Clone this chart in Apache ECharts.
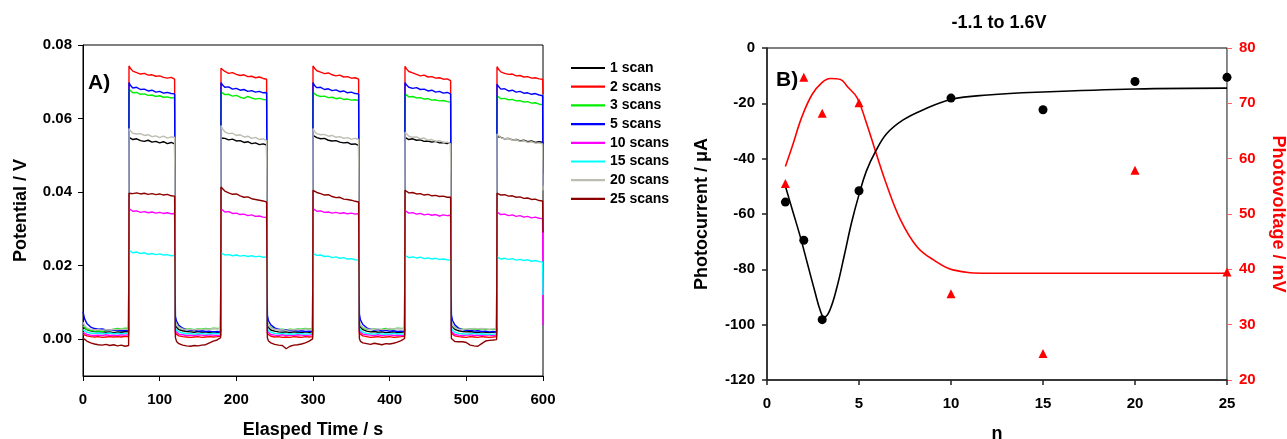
<!DOCTYPE html>
<html><head><meta charset="utf-8">
<script src="https://cdn.jsdelivr.net/npm/echarts@6/dist/echarts.min.js"></script>
<style>html,body{margin:0;padding:0;background:#fff}#c{width:1287px;height:439px}</style>
</head><body><div id="c"></div>
<script>
// ---------- Panel A data (time in s, potential in mV) ----------
const times = [
 0,2,5,10,15,20,25,30,35,40,45,50,55,59.5,
 60,62,65,70,75,80,85,90,95,100,105,110,115,119.5,
 120.5,122,125,130,135,140,145,150,155,160,165,170,175,179.5,
 180,182,185,190,195,200,205,210,215,220,225,230,235,239.5,
 240.5,242,245,250,255,260,265,270,275,280,285,290,295,299.5,
 300,302,305,310,315,320,325,330,335,340,345,350,355,359.5,
 360.5,362,365,370,375,380,385,390,395,400,405,410,415,419.5,
 420,422,425,430,435,440,445,450,455,460,465,470,475,479.5,
 480.5,482,485,490,495,500,505,510,515,520,525,530,535,539.5,
 540,542,545,550,555,560,565,570,575,580,585,590,595,599.5,
 600];
const scan1 = [
 3.4,3.0,2.6,2.3,2.1,2.0,2.1,1.9,2.0,1.8,2.0,1.9,2.1,2.0,
 54.9,54.6,54.3,54.5,54.0,53.8,54.1,53.6,53.8,53.4,53.7,53.2,53.5,53.1,
 3.6,3.1,2.6,2.3,2.1,2.0,1.9,2.1,1.9,2.0,1.8,2.0,1.9,2.0,
 54.7,54.5,54.6,54.2,54.4,53.9,54.0,53.5,53.7,53.2,53.4,52.9,53.1,52.8,
 3.5,3.0,2.5,2.2,2.0,1.9,2.0,1.8,2.0,1.9,1.8,2.0,1.9,2.0,
 55.4,55.0,54.8,54.5,54.6,54.1,53.9,54.0,53.6,53.4,53.5,53.0,53.1,52.7,
 3.6,3.1,2.6,2.2,2.0,2.1,1.9,2.0,1.8,1.9,2.0,1.8,1.9,2.0,
 54.9,54.7,54.3,54.5,54.1,54.2,53.8,53.9,53.6,53.8,53.4,53.5,53.2,53.4,
 3.7,3.2,2.7,2.3,2.1,2.0,2.1,1.9,1.8,2.0,1.9,1.8,1.9,2.0,
 55.1,54.8,54.9,54.5,54.6,54.2,54.3,53.9,54.1,53.7,53.9,53.5,53.7,53.6,
 45];
const scan2 = [
 1.3,1.1,0.9,0.7,0.6,0.7,0.5,0.6,0.7,0.6,0.7,0.6,0.8,0.7,
 74.3,73.6,72.9,72.5,72.1,72.3,71.8,71.9,71.5,71.6,71.2,71.0,71.2,70.7,
 1.6,1.2,0.9,0.7,0.6,0.5,0.6,0.7,0.5,0.6,0.7,0.6,0.7,0.8,
 73.7,73.2,72.8,72.3,72.5,72.0,71.7,71.9,71.4,71.5,71.1,71.3,70.9,70.7,
 1.5,1.1,0.8,0.6,0.7,0.5,0.6,0.5,0.7,0.6,0.5,0.7,0.6,0.7,
 74.3,73.7,73.0,72.6,72.2,72.4,71.9,71.6,71.8,71.3,71.4,71.0,71.1,70.7,
 1.6,1.2,0.9,0.7,0.5,0.6,0.7,0.5,0.6,0.7,0.5,0.6,0.7,0.8,
 74.2,73.5,72.8,72.4,72.0,71.6,71.8,71.3,71.4,71.0,71.1,70.7,70.8,70.3,
 1.7,1.3,0.9,0.7,0.6,0.5,0.7,0.6,0.5,0.7,0.6,0.5,0.6,0.7,
 74.1,73.4,72.7,72.3,72.0,72.1,71.6,71.7,71.3,71.4,71.0,71.1,70.8,70.7,
 66.7];
const scan3 = [
 3.6,3.1,2.7,2.4,2.2,2.3,2.1,2.4,2.5,2.7,2.9,2.8,3.0,2.9,
 68.0,67.5,67.0,67.1,66.6,66.7,66.3,66.4,66.0,66.2,65.8,65.9,65.6,65.7,
 4.6,3.9,3.3,2.9,2.7,2.8,2.6,2.8,2.7,2.9,2.8,3.0,2.9,3.0,
 67.3,66.9,66.5,66.6,66.1,66.3,65.8,65.5,66.0,65.6,65.3,65.5,65.2,65.1,
 4.5,3.8,3.2,2.8,2.6,2.7,2.5,2.7,2.6,2.8,2.7,2.9,2.8,2.9,
 67.1,66.7,66.3,66.0,66.1,65.7,65.8,65.4,65.6,65.2,65.3,65.0,65.1,64.9,
 4.4,3.7,3.1,2.7,2.6,2.8,2.6,2.7,2.9,2.7,2.8,3.0,2.9,3.0,
 66.7,66.3,65.9,66.0,65.6,65.7,65.3,65.4,65.0,65.1,64.8,64.9,64.6,64.5,
 4.5,3.8,3.2,2.8,2.7,2.6,2.8,2.7,2.6,2.8,2.7,2.6,2.7,2.8,
 66.2,65.8,65.4,65.5,65.1,65.2,64.8,64.9,64.5,64.6,64.2,64.3,63.9,63.8,
 60];
const scan5 = [
 7.5,5.6,4.3,3.3,2.9,2.7,2.8,2.5,2.6,2.4,2.5,2.3,2.4,2.3,
 69.8,69.0,68.3,68.5,67.9,68.0,67.5,67.7,67.2,67.4,66.9,67.1,66.8,66.7,
 6.2,4.9,3.8,3.0,2.6,2.4,2.5,2.2,2.3,2.1,2.2,2.0,2.1,2.0,
 69.8,69.1,68.5,68.6,68.0,68.2,67.7,67.9,67.4,67.6,67.2,67.4,67.0,67.1,
 6.5,5.0,3.9,3.1,2.7,2.5,2.6,2.3,2.4,2.2,2.3,2.1,2.2,2.1,
 69.8,69.0,68.4,68.5,67.9,68.1,67.6,67.8,67.3,67.5,67.0,67.2,66.8,66.7,
 6.8,5.2,4.0,3.1,2.7,2.5,2.6,2.3,2.4,2.2,2.3,2.1,2.2,2.1,
 69.8,69.1,68.5,68.2,68.4,67.9,68.0,67.5,67.7,67.2,67.4,66.9,67.1,66.7,
 6.6,5.1,3.9,3.0,2.6,2.4,2.5,2.2,2.3,2.1,2.2,2.0,2.1,2.0,
 69.4,68.7,68.0,68.1,67.5,67.7,67.2,67.4,66.9,67.0,66.6,66.8,66.4,66.2,
 41.8];
const scan10 = [
 1.9,1.6,1.3,1.1,1.0,1.1,1.0,1.2,1.0,1.1,1.0,1.2,1.1,1.2,
 35.5,35.1,34.8,34.9,34.5,34.7,34.4,34.6,34.3,34.5,34.2,34.4,34.1,34.2,
 2.2,1.7,1.4,1.2,1.0,1.1,1.0,1.2,1.1,1.0,1.2,1.1,1.0,1.1,
 35.5,35.0,34.6,34.7,34.2,34.3,33.9,34.0,33.6,33.8,33.4,33.5,33.2,33.1,
 2.1,1.7,1.3,1.1,1.0,1.2,1.0,1.1,1.0,1.2,1.1,1.0,1.1,1.2,
 35.5,35.1,34.8,34.9,34.5,34.6,34.3,34.5,34.2,34.4,34.1,34.3,34.0,34.2,
 2.2,1.8,1.4,1.2,1.1,1.0,1.2,1.0,1.1,1.2,1.0,1.1,1.0,1.1,
 35.0,34.6,34.3,34.4,34.0,34.2,33.8,34.0,33.7,33.9,33.5,33.8,33.6,33.7,
 2.1,1.7,1.3,1.1,1.0,1.1,1.2,1.0,1.1,1.0,1.2,1.1,1.0,1.1,
 34.6,34.2,33.9,34.0,33.6,33.8,33.4,33.6,33.2,33.4,33.0,33.2,32.9,32.8,
 3.9];
const scan15 = [
 2.6,2.2,1.9,1.7,1.6,1.7,1.5,1.6,1.7,1.5,1.6,1.5,1.6,1.7,
 24.2,23.8,23.5,23.7,23.3,23.5,23.1,23.3,23.0,23.2,22.9,23.0,22.7,22.8,
 3.0,2.4,2.0,1.7,1.5,1.6,1.4,1.5,1.6,1.4,1.5,1.6,1.5,1.6,
 23.5,23.1,22.9,23.0,22.7,22.9,22.6,22.8,22.5,22.7,22.4,22.6,22.3,22.4,
 2.9,2.3,1.9,1.6,1.5,1.6,1.4,1.5,1.4,1.6,1.5,1.4,1.5,1.6,
 23.3,23.0,22.8,22.9,22.5,22.6,22.2,22.4,22.0,22.2,21.8,21.9,21.6,21.5,
 3.0,2.4,1.9,1.6,1.5,1.4,1.6,1.4,1.5,1.4,1.6,1.5,1.4,1.5,
 22.8,22.5,22.2,22.4,22.1,22.3,21.9,22.1,21.8,22.0,21.7,21.8,21.6,21.5,
 3.1,2.4,1.9,1.6,1.5,1.4,1.5,1.6,1.4,1.5,1.4,1.3,1.4,1.5,
 22.4,22.1,21.8,22.0,21.7,21.9,21.5,21.7,21.4,21.6,21.2,21.4,21.1,21.0,
 12];
const scan20 = [
 4.6,3.7,3.1,2.7,2.5,2.6,2.4,2.6,2.5,2.7,2.6,2.8,2.7,2.8,
 57.3,56.6,56.0,55.8,55.9,55.4,55.6,55.1,55.3,54.8,55.2,54.7,55.0,54.9,
 4.9,3.9,3.2,2.8,2.6,2.7,2.5,2.7,2.6,2.8,2.7,2.9,2.8,2.9,
 58.1,57.2,56.4,55.9,56.0,55.4,55.6,55.0,55.2,54.6,54.9,54.3,54.5,54.0,
 4.8,3.8,3.1,2.7,2.5,2.6,2.4,2.6,2.5,2.7,2.6,2.8,2.7,2.8,
 57.3,56.5,55.9,55.6,55.7,55.2,55.4,54.9,55.1,54.6,54.8,54.4,54.6,54.3,
 4.9,3.9,3.2,2.8,2.6,2.7,2.8,2.6,2.7,2.9,2.8,2.9,2.8,2.9,
 56.3,55.8,55.2,54.9,55.0,54.5,54.7,54.1,54.3,53.8,54.0,53.5,53.6,53.1,
 4.8,3.8,3.1,2.7,2.6,2.8,2.7,2.9,2.8,2.9,2.8,2.7,2.8,2.9,
 55.8,55.3,54.8,54.5,54.6,54.1,54.3,53.8,54.0,53.5,53.7,53.3,53.4,53.1,
 40.5];
const scan25 = [
 0.3,0.0,-0.5,-1.0,-1.3,-1.5,-1.6,-1.4,-1.7,-1.5,-1.8,-1.6,-1.9,-1.7,
 39.7,39.9,39.6,39.8,39.5,39.7,39.4,39.6,39.3,39.5,39.2,39.4,39.0,38.9,
 0.5,-0.6,-1.2,-1.6,-1.8,-1.9,-1.7,-1.8,-1.6,-1.5,-1.0,-0.5,-0.2,0.4,
 41.4,40.9,40.3,39.8,39.4,39.5,39.0,38.6,38.7,38.2,38.0,37.8,37.6,37.3,
 0.3,-0.5,-1.0,-1.4,-1.6,-1.7,-2.6,-1.9,-1.6,-1.5,-1.3,-1.0,-0.5,0.1,
 40.5,40.2,39.9,39.6,39.2,39.3,38.8,38.5,38.6,38.1,38.0,37.8,37.5,37.3,
 0.2,-0.6,-1.0,-1.2,-1.4,-1.1,-1.3,-1.5,-1.2,-1.3,-1.1,-0.8,-0.4,0.2,
 40.5,40.1,39.8,39.9,39.5,39.6,39.2,39.4,39.0,39.1,38.8,38.9,38.6,38.6,
 0.2,-0.3,-0.6,-0.7,-0.7,-0.9,-1.6,-1.8,-1.9,-1.2,-0.5,-0.3,-0.2,-0.1,
 39.7,39.5,39.2,39.3,38.9,39.0,38.6,38.7,38.3,38.4,38.0,38.1,37.7,37.6,
 29];
const seriesNames = ['1 scan','2 scans','3 scans','5 scans','10 scans','15 scans','20 scans','25 scans'];
const seriesValues = [scan1, scan2, scan3, scan5, scan10, scan15, scan20, scan25];
const seriesColors = ['#000000','#ff0000','#00ee00','#0000ff','#ff00ff','#00ffff','#bdbdb2','#8c0000'];
const yTicksA = [0, 0.02, 0.04, 0.06, 0.08];

// ---------- Panel B data ----------
const nPoints = [1, 2, 3, 5, 10, 15, 20, 25];
const photocurrent = [-55.7, -69.5, -98.2, -51.6, -18.1, -22.3, -12.1, -10.6];
const photovoltage = [55.5, 74.7, 68.2, 70.1, 35.6, 24.8, 57.9, 39.5];
const currentFitN = [1, 1.4, 1.8, 2.2, 2.6, 2.9, 3.1, 3.4, 3.8, 4.2, 4.6, 5.0, 5.4, 5.9, 6.5, 7.4, 8.5, 10, 12, 15, 20, 25];
const currentFitV = [-50, -59, -68, -78, -88, -95, -97.3, -95, -86.5, -75, -63, -53, -44.5, -37.4, -31, -26, -22.3, -18.6, -17, -15.9, -14.8, -14.5];
const voltageFitN = [1, 1.37, 1.9, 2.45, 3.0, 3.45, 4.0, 4.4, 4.9, 5.35, 5.9, 6.5, 7.25, 8.15, 9.05, 10.1, 12, 15, 20, 25];
const voltageFitV = [58.6, 62.2, 67.6, 71.6, 73.8, 74.5, 74.3, 72.9, 71.0, 67.0, 61.3, 55.3, 49.0, 44.1, 41.7, 39.9, 39.3, 39.3, 39.3, 39.3];

const FF = "'Liberation Sans', Arial, sans-serif";
const chart = echarts.init(document.getElementById('c'), null, {renderer: 'canvas'});

const seriesA = seriesNames.map((name, i) => ({
  name, type: 'line', xAxisIndex: 0, yAxisIndex: 0,
  data: times.map((t, j) => [t, seriesValues[i][j] / 1000]),
  symbol: 'none', lineStyle: {color: seriesColors[i], width: 1.4},
  itemStyle: {color: seriesColors[i]}, z: 2 + i
}));

const axisTextA = {color: '#000', fontSize: 15, fontWeight: 'bold', fontFamily: FF};
const nameText = {color: '#000', fontSize: 18, fontWeight: 'bold', fontFamily: FF};

chart.setOption({
  animation: false,
  backgroundColor: '#fff',
  grid: [
    {left: 83, top: 45, width: 460, height: 331, show: true, borderColor: '#000', borderWidth: 1,
     backgroundColor: 'transparent', containLabel: false, outerBoundsMode: 'none'},
    {left: 767, top: 48, width: 460, height: 332, show: true, borderColor: '#000', borderWidth: 1,
     backgroundColor: 'transparent', containLabel: false, outerBoundsMode: 'none'}
  ],
  legend: {
    data: seriesNames, orient: 'vertical', left: 566, top: 56,
    icon: 'path://M0,0H34V2.2H0Z',
    itemWidth: 34, itemHeight: 14, itemGap: 4.7,
    textStyle: {color: '#000', fontSize: 14, fontWeight: 'bold', fontFamily: FF},
    lineStyle: {width: 2}
  },
  xAxis: [
    {gridIndex: 0, type: 'value', min: 0, max: 600, interval: 100,
     name: 'Elasped Time / s', nameLocation: 'middle', nameGap: 45, nameTextStyle: nameText,
     axisLine: {onZero: false, lineStyle: {color: '#000', width: 1}}, axisTick: {length: 5, lineStyle: {color: '#000'}},
     axisLabel: Object.assign({margin: 16}, axisTextA), splitLine: {show: false}},
    {gridIndex: 1, type: 'value', min: 0, max: 25, interval: 5,
     name: 'n', nameLocation: 'middle', nameGap: 45, nameTextStyle: nameText,
     axisLine: {onZero: false, lineStyle: {color: '#222', width: 1.5}}, axisTick: {length: 5, lineStyle: {color: '#222', width: 1.5}},
     axisLabel: Object.assign({margin: 16}, axisTextA), splitLine: {show: false}}
  ],
  yAxis: [
    {gridIndex: 0, type: 'value', min: -0.01, max: 0.08,
     name: 'Potential / V', nameLocation: 'middle', nameGap: 53, nameTextStyle: nameText,
     axisLine: {show: true, onZero: false, lineStyle: {color: '#000', width: 1}},
     axisTick: {show: true, length: 5, customValues: yTicksA, lineStyle: {color: '#000'}},
     axisLabel: Object.assign({margin: 11, customValues: yTicksA, formatter: v => v.toFixed(2)}, axisTextA),
     splitLine: {show: false}},
    {gridIndex: 1, type: 'value', min: -120, max: 0, interval: 20,
     name: 'Photocurrent / \u03bcA', nameLocation: 'middle', nameGap: 56, nameTextStyle: nameText,
     axisLine: {show: true, onZero: false, lineStyle: {color: '#222', width: 1.5}},
     axisTick: {show: true, length: 5, lineStyle: {color: '#222', width: 1.5}},
     axisLabel: Object.assign({margin: 12}, axisTextA), splitLine: {show: false}},
    {gridIndex: 1, type: 'value', position: 'right', min: 20, max: 80, interval: 10,
     name: 'Photovoltage / mV', nameLocation: 'middle', nameGap: 42, nameRotate: -90,
     nameTextStyle: Object.assign({}, nameText, {color: '#ff0000'}),
     axisLine: {show: true, onZero: false, lineStyle: {color: '#ff6060', width: 1}},
     axisTick: {show: true, length: 5, lineStyle: {color: '#ff6060'}},
     axisLabel: Object.assign({margin: 12}, axisTextA, {color: '#ff0000'}), splitLine: {show: false}}
  ],
  graphic: [
    {type: 'text', left: 88, top: 73, style: {text: 'A)', fontSize: 21, fontWeight: 'bold', fontFamily: FF, fill: '#000'}},
    {type: 'text', left: 776, top: 70, style: {text: 'B)', fontSize: 21, fontWeight: 'bold', fontFamily: FF, fill: '#000'}},
    {type: 'text', x: 999, y: 23, style: {text: '-1.1 to 1.6V', fontSize: 18, fontWeight: 'bold', fontFamily: FF, fill: '#000', align: 'center', verticalAlign: 'middle'}}
  ],
  series: seriesA.concat([
    {name: 'voltage fit', type: 'line', xAxisIndex: 1, yAxisIndex: 2, smooth: 0.4, symbol: 'none',
     data: voltageFitN.map((n, i) => [n, voltageFitV[i]]), lineStyle: {color: '#ff0000', width: 1.6}, z: 3},
    {name: 'current fit', type: 'line', xAxisIndex: 1, yAxisIndex: 1, smooth: 0.4, symbol: 'none',
     data: currentFitN.map((n, i) => [n, currentFitV[i]]), lineStyle: {color: '#000', width: 1.6}, z: 3},
    {name: 'photovoltage', type: 'scatter', xAxisIndex: 1, yAxisIndex: 2, symbol: 'triangle', symbolSize: 9,
     data: nPoints.map((n, i) => [n, photovoltage[i]]), itemStyle: {color: '#ff0000', opacity: 1}, z: 5},
    {name: 'photocurrent', type: 'scatter', xAxisIndex: 1, yAxisIndex: 1, symbol: 'circle', symbolSize: 9,
     data: nPoints.map((n, i) => [n, photocurrent[i]]), itemStyle: {color: '#000', opacity: 1}, z: 5}
  ])
});
</script></body></html>
